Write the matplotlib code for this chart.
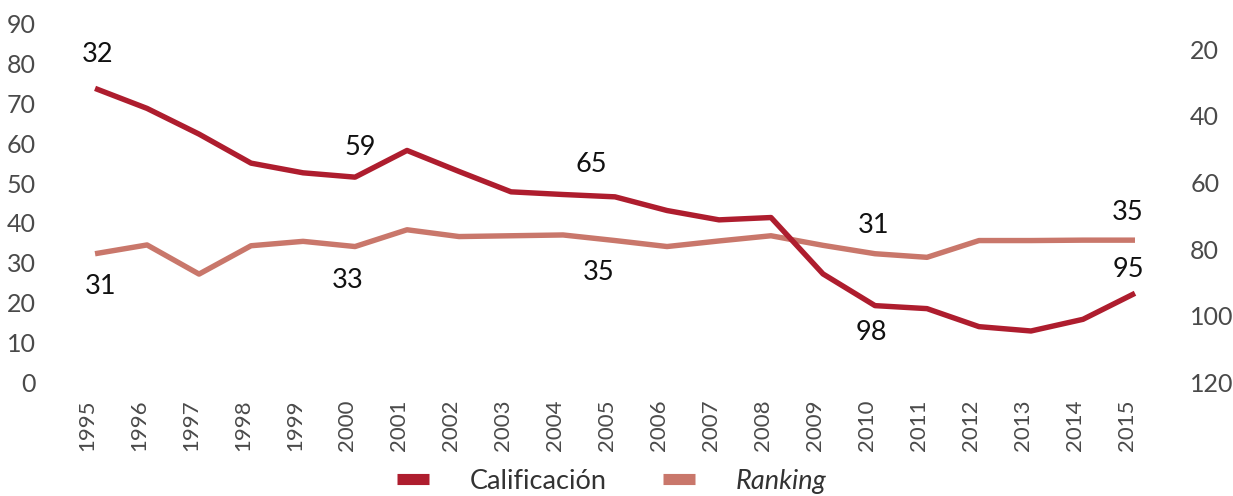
"""Calificación y ranking, 1995-2015: dos ejes, ranking invertido a la derecha."""

import matplotlib

matplotlib.use("Agg")
import matplotlib.pyplot as plt
from matplotlib.lines import Line2D
from matplotlib.transforms import ScaledTranslation

YEARS = list(range(1995, 2016))

# dark line, read against the right (inverted) axis
RANKING_POS = [31.8, 37.8, 45.5, 54.2, 57.1, 58.4, 50.4, 56.7, 62.8, 63.6, 64.3,
               68.4, 71.2, 70.5, 87.4, 96.9, 97.8, 103.2, 104.5, 101.0, 93.2]
# light line, read against the left axis
SCORE = [32.3, 34.5, 27.2, 34.3, 35.4, 34.1, 38.3, 36.6, 36.8, 37.0, 35.6,
         34.1, 35.5, 36.8, 34.4, 32.3, 31.4, 35.6, 35.6, 35.7, 35.7]

LABEL_YEARS = [1995, 2000, 2005, 2010, 2015]
RANKING_LABELS = ["32", "59", "65", "98", "95"]
SCORE_LABELS = ["31", "33", "35", "31", "35"]

LEFT_TICKS = list(range(0, 91, 10))
RIGHT_TICKS = list(range(20, 121, 20))

DARK = "#AE1D2E"
LIGHT = "#C9776B"
TICK_COLOR = "#4a4a4a"
FONT = "Lato"

# label offsets in pixels from the point (dx, dy)
RANKING_OFFSETS = [(3, 34), (5, 30), (-24, 32), (-4, -27), (-7, 24)]
SCORE_OFFSETS = [(5, -33), (-7, -34), (-16, -32), (-1, 28), (-7, 28)]


def main() -> None:
    fig = plt.figure(figsize=(12.33, 4.96), dpi=100)
    ax = fig.add_axes([0.056, 0.2284, 0.8856, 0.7246])
    ax2 = ax.twinx()

    ax.plot(YEARS, SCORE, color=LIGHT, lw=3.9, solid_capstyle="butt", zorder=2)
    ax2.plot(YEARS, RANKING_POS, color=DARK, lw=3.9, solid_capstyle="butt", zorder=3)

    ax.set_xlim(1994.5, 2015.5)
    ax.set_ylim(0, 90)
    ax2.set_ylim(120, 12.3)

    ax.set_yticks(LEFT_TICKS)
    ax2.set_yticks(RIGHT_TICKS)
    ax.set_xticks(YEARS)
    ax.set_xticklabels([str(y) for y in YEARS], rotation=90)

    for a in (ax, ax2):
        for s in a.spines.values():
            s.set_visible(False)
        a.tick_params(length=0, colors=TICK_COLOR)
    ax.tick_params(axis="y", labelsize=18, pad=24)
    ax2.tick_params(axis="y", labelsize=18, pad=21)
    ax.tick_params(axis="x", labelsize=16, pad=12)

    shift = ScaledTranslation(-8 / 100, 0, fig.dpi_scale_trans)
    for lab in ax.get_xticklabels():
        lab.set_transform(lab.get_transform() + shift)
    for lab in ax.get_xticklabels() + ax.get_yticklabels() + ax2.get_yticklabels():
        lab.set_fontfamily(FONT)

    for yr, txt, (dx, dy) in zip(LABEL_YEARS, RANKING_LABELS, RANKING_OFFSETS):
        i = YEARS.index(yr)
        ax2.annotate(txt, (yr, RANKING_POS[i]), xytext=(dx, dy), textcoords="offset pixels",
                     ha="center", va="center", fontsize=19.5, family=FONT, color="#111111")
    for yr, txt, (dx, dy) in zip(LABEL_YEARS, SCORE_LABELS, SCORE_OFFSETS):
        i = YEARS.index(yr)
        ax.annotate(txt, (yr, SCORE[i]), xytext=(dx, dy), textcoords="offset pixels",
                    ha="center", va="center", fontsize=19.5, family=FONT, color="#111111")

    handles = [
        Line2D([], [], color=DARK, lw=8, solid_capstyle="butt"),
        Line2D([], [], color=LIGHT, lw=8, solid_capstyle="butt"),
    ]
    leg = fig.legend(handles, ["Calificación", "Ranking"], loc="center",
                     bbox_to_anchor=(0.496, 0.03), ncol=2, frameon=False,
                     handlelength=1.17, handletextpad=1.5, columnspacing=2.1,
                     borderpad=0.1, prop={"family": FONT, "size": 19.5})
    for t in leg.get_texts():
        t.set_color("#333333")
    leg.get_texts()[1].set_fontstyle("italic")

    fig.savefig("out.png", dpi=100)
    plt.close(fig)


if __name__ == "__main__":
    main()
